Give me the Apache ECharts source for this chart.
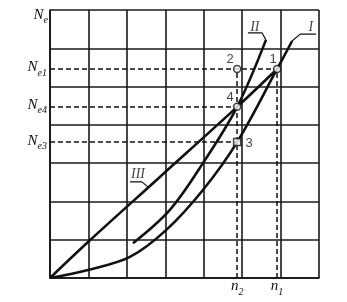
<!DOCTYPE html>
<html><head><meta charset="utf-8">
<script src="https://cdn.jsdelivr.net/npm/echarts@6/dist/echarts.min.js"></script>
<style>html,body{margin:0;padding:0;background:#fff}#c{width:347px;height:302px}</style>
</head><body><div id="c"></div>
<script>
// ---- data (axis units: 7 grid cells each way) ----
const xMax = 7, yMax = 7;
const curveI   = [[0,0],[0.99,0.21],[2.08,0.55],[3.02,1.25],[3.98,2.30],[4.87,3.55],[5.91,5.46],[6.30,6.19]];
const curveII  = [[2.16,0.91],[3.12,1.78],[3.98,3.00],[4.87,4.47],[5.62,6.22]];
const curveIII = [[0,0],[0.99,0.94],[2.86,2.64],[4.87,4.47],[5.91,5.46]];
const n1 = 5.91, n2 = 4.87;
const Ne1 = 5.46, Ne4 = 4.47, Ne3 = 3.55;
const pointNames = ['1','2','3','4'];
const pointXY = [[n1,Ne1],[n2,Ne1],[n2,Ne3],[n2,Ne4]];
const curveNames = ['I','II','III'];
const curveLabelXY = [[6.79,6.56],[5.33,6.56],[2.29,2.72]];
const leaderI   = [[6.30,6.19],[6.51,6.37],[6.92,6.37]];
const leaderII  = [[5.15,6.40],[5.52,6.40],[5.62,6.22]];
const leaderIII = [[2.08,2.51],[2.39,2.51],[2.55,2.38]];
const yTitleY = 6.84;

const serif = 'Liberation Serif';
const richSub = {
  n:{fontFamily:serif,fontStyle:'italic',fontSize:15,color:'#111',verticalAlign:'bottom',padding:[0,0,3,0]},
  s:{fontFamily:serif,fontStyle:'italic',fontSize:10,color:'#111',verticalAlign:'bottom'}
};
function hLine(y, xEnd, sub){
  return [{coord:[0,y], label:{formatter:'{n|N}{s|'+sub+'}'}},{coord:[xEnd,y]}];
}
function vLine(x, yEnd, sub){
  return [{coord:[x,0], label:{formatter:'{n|n}{s|'+sub+'}', distance:1}},{coord:[x,yEnd]}];
}
const curveStyle = {color:'#111', width:2.6};
const chart = echarts.init(document.getElementById('c'), null, {renderer:'canvas'});
chart.setOption({
  animation:false,
  backgroundColor:'#fff',
  grid:{left:50, top:10, right:28, bottom:24, containLabel:false},
  xAxis:{type:'value', min:0, max:xMax, interval:1,
    axisLine:{show:true, lineStyle:{color:'#111', width:1.6}}, axisTick:{show:false}, axisLabel:{show:false},
    splitLine:{show:true, lineStyle:{color:'#1a1a1a', width:1.6}}},
  yAxis:{type:'value', min:0, max:yMax, interval:1,
    axisLine:{show:true, lineStyle:{color:'#111', width:1.6}}, axisTick:{show:false}, axisLabel:{show:false},
    splitLine:{show:true, lineStyle:{color:'#1a1a1a', width:1.6}}},
  series:[
    {type:'line', data:[], z:3,
      markLine:{silent:true, symbol:['none','none'], animation:false,
        lineStyle:{color:'#111', type:[5,3], width:1.5},
        label:{show:true, position:'start', distance:3, rich:richSub},
        data:[hLine(Ne1,n1,'e1'), hLine(Ne4,n2,'e4'), hLine(Ne3,n2,'e3'),
              vLine(n2,Ne1,'2'), vLine(n1,Ne1,'1')]},
      markPoint:{silent:true, symbol:'circle', symbolSize:0, animation:false,
        label:{show:true, position:'left', distance:2, formatter:'{n|N}{s|e}', rich:richSub},
        data:[{coord:[0,yTitleY]}]}},
    {type:'line', data:curveI, smooth:0.35, symbol:'none', lineStyle:curveStyle, z:4},
    {type:'line', data:curveII, smooth:0.35, symbol:'none', lineStyle:curveStyle, z:4},
    {type:'line', data:curveIII, smooth:0.35, symbol:'none', lineStyle:curveStyle, z:4},
    {type:'line', data:leaderI, symbol:'none', lineStyle:{color:'#111', width:1.2}, z:4},
    {type:'line', data:leaderII, symbol:'none', lineStyle:{color:'#111', width:1.2}, z:4},
    {type:'line', data:leaderIII, symbol:'none', lineStyle:{color:'#111', width:1.2}, z:4},
    {type:'scatter', z:6,
      data:pointXY.map((p,i)=>({value:p, name:pointNames[i], symbol: pointNames[i]==='3'?'rect':'circle',
        label:{position: pointNames[i]==='3' ? 'right' : 'top', offset: pointNames[i]==='3' ? [2,1] : (pointNames[i]==='1'?[-4,3]:[-7,3])}})),
      symbolSize:7, itemStyle:{color:'#fff', borderColor:'#111', borderWidth:1.5},
      label:{show:true, formatter:'{b}', fontFamily:'Liberation Sans', fontSize:13, color:'#111', distance:2}},
    {type:'scatter', z:6, symbolSize:0,
      data:curveLabelXY.map((p,i)=>({value:p, name:curveNames[i]})),
      label:{show:true, position:'inside', formatter:'{b}', fontFamily:serif, fontStyle:'italic', fontSize:14, color:'#111'}}
  ]
});
</script></body></html>
